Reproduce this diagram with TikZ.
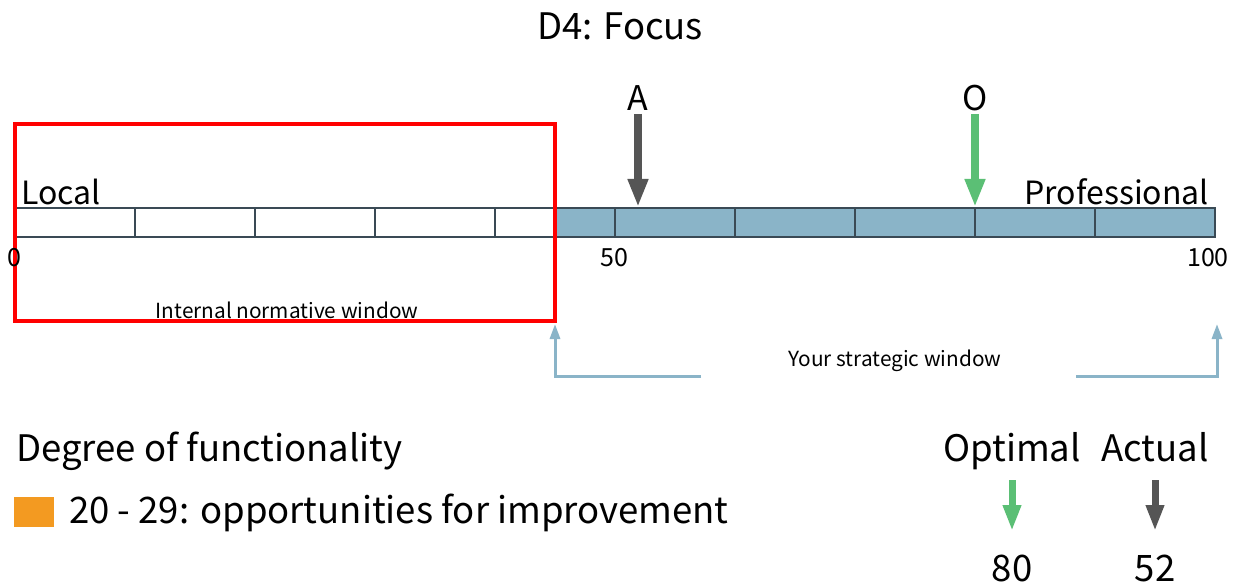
\documentclass[tikz,border=0pt]{standalone}
\usepackage{fontspec}
\setmainfont{Noto Sans CJK JP}
\usetikzlibrary{arrows.meta}
\definecolor{barblue}{HTML}{8AB4C8}
\definecolor{barline}{HTML}{3A4A55}
\definecolor{darkarrow}{HTML}{555555}
\definecolor{greenarrow}{HTML}{5BBF75}
\definecolor{orangebox}{HTML}{F39A21}
\definecolor{winred}{HTML}{FF0000}
\tikzset{
  seg/.style={draw=barline, line width=2.4pt},
  bigarrow/.style={line width=8pt, -{Triangle[width=19pt,length=28pt]}},
  smallarrow/.style={line width=7pt, -{Triangle[width=17pt,length=26pt]}},
  bracket/.style={draw=barblue, line width=3pt, -{Triangle[width=10pt,length=15pt]}},
  biglbl/.style={inner sep=0pt, font=\fontsize{36.5}{38}\selectfont},
  barlbl/.style={inner sep=0pt, font=\fontsize{32}{34}\selectfont},
  markerlbl/.style={inner sep=0pt, font=\fontsize{34}{36}\selectfont},
  num/.style={inner sep=0pt, font=\fontsize{25}{27}\selectfont},
  smalllbl/.style={inner sep=0pt, font=\fontsize{20.8}{22}\selectfont},
}
\begin{document}
\begin{tikzpicture}[x=1pt,y=-1pt]
\useasboundingbox (0,0) rectangle (1236,585);
\fill[white] (0,0) rectangle (1236,585);
% title
\node[biglbl, anchor=base] (title) at (620,40) {D4: Focus};
% bar
\fill[barblue] (555,208) rectangle (1215,237);
\draw[seg] (15,208) rectangle (1215,237);
\foreach \x in {135,255,375,495,615,735,855,975,1095}
  \draw[seg] (\x,208) -- (\x,237);
% red window
\draw[winred, line width=4pt] (15,124) rectangle (555,321);
% labels on bar
\node[barlbl, anchor=base west] (local) at (21,205) {Local};
\node[barlbl, anchor=base east] (prof) at (1209,205) {Professional};
\node[num] (n0) at (14,258) {0};
\node[num] (n50) at (614,258) {50};
\node[num] (n100) at (1208,258) {100};
\node[smalllbl] (inw) at (287,310) {Internal normative window};
\node[smalllbl] (ysw) at (895,361) {Your strategic window};
% A and O markers
\node[markerlbl, anchor=base] (la) at (638,111) {A};
\node[markerlbl, anchor=base] (lo) at (975,111) {O};
\coordinate (aTop) at (638,114);
\coordinate (aBot) at (638,207);
\coordinate (oTop) at (975,114);
\coordinate (oBot) at (975,207);
\draw[bigarrow, darkarrow] (aTop) -- (aBot);
\draw[bigarrow, greenarrow] (oTop) -- (oBot);
% strategic window brackets
\coordinate (bl1) at (701,376);
\coordinate (bl2) at (555,376);
\coordinate (bl3) at (555,324);
\coordinate (br1) at (1076,376);
\coordinate (br2) at (1217,376);
\coordinate (br3) at (1217,324);
\draw[bracket] (bl1) -- (bl2) -- (bl3);
\draw[bracket] (br1) -- (br2) -- (br3);
% legend
\node[biglbl, anchor=base west] (deg) at (16,461) {Degree of functionality};
\fill[orangebox] (14,497) rectangle (54,527);
\node[biglbl, anchor=base west] (opp) at (69,523) {20 - 29: opportunities for improvement};
% optimal / actual
\node[biglbl, anchor=base] (opt) at (1012,461) {Optimal};
\node[biglbl, anchor=base] (act) at (1155,461) {Actual};
\coordinate (s1t) at (1012,480);
\coordinate (s1b) at (1012,531);
\coordinate (s2t) at (1155,480);
\coordinate (s2b) at (1155,531);
\draw[smallarrow, greenarrow] (s1t) -- (s1b);
\draw[smallarrow, darkarrow] (s2t) -- (s2b);
\node[biglbl] (v80) at (1012,568) {80};
\node[biglbl] (v52) at (1155,568) {52};
\end{tikzpicture}
\end{document}
